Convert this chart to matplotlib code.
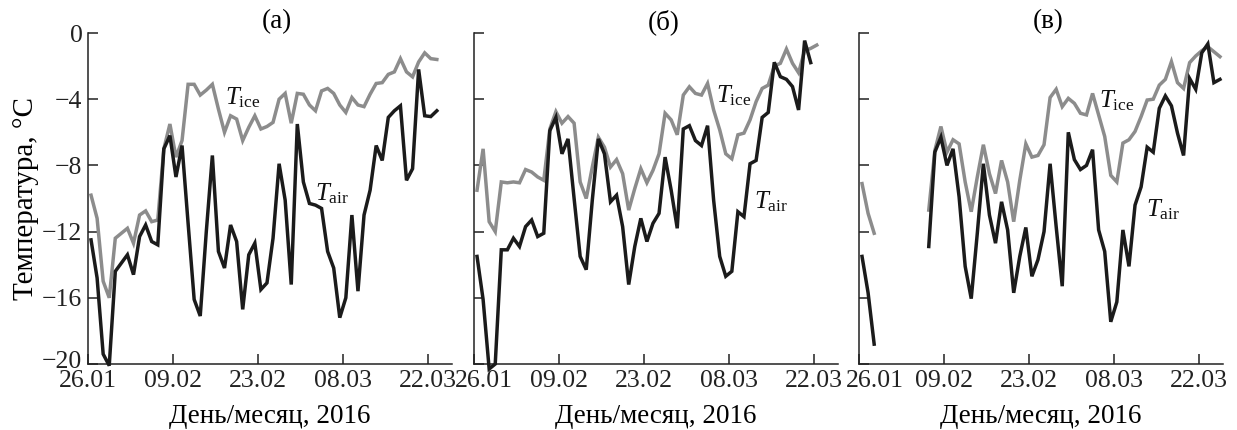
import numpy as np
import pandas as pd
import matplotlib
matplotlib.use("Agg")
import matplotlib.pyplot as plt
import matplotlib.dates as mdates
from matplotlib.transforms import ScaledTranslation

plt.rcParams['font.family'] = ['Liberation Serif', 'DejaVu Serif']
plt.rcParams['mathtext.fontset'] = 'custom'
plt.rcParams['mathtext.rm'] = 'Liberation Serif'
plt.rcParams['mathtext.it'] = 'Liberation Serif:italic'

nan = np.nan
start_date = "2016-01-26"
end_date = "2016-03-26"
tick_dates = ["2016-01-26", "2016-02-09", "2016-02-23", "2016-03-08", "2016-03-22"]
y_ticks = [0, -4, -8, -12, -16, -20]
panel_titles = ["(a)", "(б)", "(в)"]

# Panel (a)
air_a = [-12.5, -14.8, -19.4, -20.1, -14.4, -13.9, -13.4, -14.6, -12.3, -11.6,
         -12.6, -12.8, -7.0, -6.2, -8.7, -6.8, -11.5, -16.1, -17.1, -12.0,
         -7.4, -13.2, -14.2, -11.6, -12.6, -16.7, -13.4, -12.7, -15.5, -15.1,
         -12.4, -7.9, -10.1, -15.2, -5.5, -9.0, -10.3, -10.4, -10.6, -13.2,
         -14.2, -17.2, -16.0, -11.0, -15.6, -11.0, -9.5, -6.8, -7.7, -5.1,
         -4.7, -4.4, -8.9, -8.2, -2.2, -5.0, -5.05, -4.7]
ice_a = [-9.8, -11.2, -15.0, -16.0, -12.4, -12.1, -11.8, -12.7, -11.0, -10.75,
         -11.4, -11.3, -7.0, -5.5, -7.5, -6.5, -3.1, -3.1, -3.75, -3.45,
         -3.1, -4.6, -6.0, -5.0, -5.2, -6.5, -5.7, -5.0, -5.8, -5.65,
         -5.4, -4.0, -3.65, -5.45, -3.65, -3.7, -4.35, -4.7, -3.5, -3.35,
         -3.65, -4.35, -4.8, -3.9, -4.35, -4.45, -3.7, -3.05, -3.0, -2.5,
         -2.35, -1.55, -2.35, -2.65, -1.75, -1.2, -1.55, -1.6]

# Panel (б)
air_b = [-13.5, -16.1, -20.3, -20.0, -13.1, -13.1, -12.4, -12.9, -11.7, -11.3,
         -12.3, -12.1, -5.9, -5.1, -7.3, -6.4, -10.0, -13.5, -14.3, -10.1,
         -6.4, -7.3, -10.2, -9.8, -11.7, -15.2, -12.9, -11.2, -12.6, -11.5,
         -10.9, -7.5, -9.5, -11.8, -5.8, -5.6, -6.5, -6.8, -5.6, -10.1,
         -13.5, -14.7, -14.4, -10.8, -11.1, -7.9, -7.7, -5.1, -4.8, -1.77,
         -2.64, -2.8, -3.24, -4.65, -0.46, -1.79]
ice_b = [-9.5, -7.0, -11.4, -12.0, -9.0, -9.05, -9.0, -9.05, -8.25, -8.4,
         -8.7, -8.9, -5.8, -4.75, -5.45, -5.05, -5.45, -9.0, -10.0, -8.1,
         -6.3, -6.9, -8.1, -7.65, -8.5, -10.7, -9.4, -8.2, -9.05, -8.3,
         -7.3, -4.85, -5.25, -6.15, -3.75, -3.25, -3.65, -3.75, -3.05, -4.65,
         -5.85, -7.3, -7.6, -6.15, -6.05, -5.25, -4.15, -3.35, -3.15, -2.0,
         -1.83, -0.97, -1.83, -2.4, -1.07, -0.93, -0.73]

# Panel (в) (gap: no data)
air_c = [-13.5, -15.7, -18.8, nan, nan, nan, nan, nan, nan, nan,
         nan, -12.9, -7.2, -6.3, -8.0, -7.0, -9.9, -14.1, -16.05, -12.1,
         -7.9, -11.0, -12.7, -10.2, -11.9, -15.7, -13.5, -11.75, -14.7, -13.7,
         -12.0, -7.9, -11.7, -15.3, -6.0, -7.65, -8.25, -8.0, -7.05, -11.9,
         -13.2, -17.45, -16.25, -11.9, -14.1, -10.4, -9.3, -6.9, -7.2, -4.55,
         -3.8, -4.4, -6.05, -7.4, -2.75, -3.4, -1.2, -0.66, -3.0, -2.8]
ice_c = [-9.1, -10.9, -12.1, nan, nan, nan, nan, nan, nan, nan,
         nan, -10.7, -7.1, -5.65, -7.2, -6.45, -6.7, -9.0, -10.8, -8.7,
         -6.75, -8.5, -9.7, -7.7, -9.0, -11.4, -8.9, -6.7, -7.5, -7.4,
         -6.75, -3.9, -3.4, -4.45, -3.95, -4.25, -4.85, -4.95, -3.65, -4.95,
         -6.25, -8.6, -9.0, -6.65, -6.45, -5.95, -5.05, -4.05, -4.0, -3.15,
         -2.8, -1.73, -3.0, -3.35, -1.79, -1.39, -1.07, -0.83, -1.13, -1.43]

panels = [(air_a, ice_a), (air_b, ice_b), (air_c, ice_c)]
label_pos = [((22.6, -4.3), (37.4, -10.1)),
             ((39.9, -4.2), (46.2, -10.6)),
             ((39.6, -4.5), (47.3, -11.1))]
first_label_shift = [0, 10, 16]

BLACK = '#1b1b1b'
GRAY = '#8c8c8c'
FS_TICK = 18.5
FS_LAB = 19.5

W, H = 1237, 430
fig = plt.figure(figsize=(W / 100, H / 100), dpi=100)
lefts = [88, 474, 859]
t0 = pd.Timestamp(start_date)

for i, (air, ice) in enumerate(panels):
    ax = fig.add_axes([lefts[i] / W, (H - 364) / H, 364 / W, 331 / H])
    d_air = pd.date_range(t0 + pd.Timedelta(hours=12), periods=len(air), freq='D')
    d_ice = pd.date_range(t0 + pd.Timedelta(hours=12), periods=len(ice), freq='D')
    ax.plot(d_ice, ice, color=GRAY, lw=2.5, solid_joinstyle='miter', zorder=2, clip_on=False)
    ax.plot(d_air, air, color=BLACK, lw=2.5, solid_joinstyle='miter', zorder=3, clip_on=False)
    ax.set_xlim(pd.Timestamp(start_date), pd.Timestamp(end_date))
    ax.set_ylim(-20, 0)
    ax.set_yticks(y_ticks)
    ax.set_xticks([pd.Timestamp(t) for t in tick_dates])
    ax.xaxis.set_major_formatter(mdates.DateFormatter('%d.%m'))
    for s in ['top', 'right']:
        ax.spines[s].set_visible(False)
    for s in ['left', 'bottom']:
        ax.spines[s].set_linewidth(1.1)
        ax.spines[s].set_color('#222222')
    ax.tick_params(direction='in', length=7, width=1.1, labelsize=FS_TICK,
                   colors='#222222')
    ax.tick_params(axis='y', pad=4)
    ax.tick_params(axis='x', pad=4)
    ax.patch.set_alpha(0)
    if i == 0:
        ax.set_yticklabels(['0' if v == 0 else '\u2212' + str(abs(v)) for v in y_ticks])
        ax.set_ylabel('Температура, °C', fontsize=21, labelpad=2)
        ylab_last = ax.get_yticklabels()[-1]
        ylab_last.set_transform(ylab_last.get_transform() +
                                ScaledTranslation(0, 4 / 100, fig.dpi_scale_trans))
    else:
        ax.set_yticklabels([])
    lab0 = ax.get_xticklabels()[0]
    if first_label_shift[i]:
        lab0.set_transform(lab0.get_transform() +
                           ScaledTranslation(first_label_shift[i] / 100, 0, fig.dpi_scale_trans))
    ax.set_xlabel('День/месяц, 2016', fontsize=FS_LAB, labelpad=9)
    ax.text(0.52, 1.034, panel_titles[i], transform=ax.transAxes, ha='center',
            va='center', fontsize=FS_LAB)
    (xi, yi), (xa, ya) = label_pos[i]
    ax.text(t0 + pd.Timedelta(days=xi), yi, r'$T_{\mathrm{ice}}$', fontsize=18,
            ha='left', va='baseline', color='#111111', zorder=5)
    ax.text(t0 + pd.Timedelta(days=xa), ya, r'$T_{\mathrm{air}}$', fontsize=18,
            ha='left', va='baseline', color='#111111', zorder=5)

fig.savefig('out.png', dpi=100)
